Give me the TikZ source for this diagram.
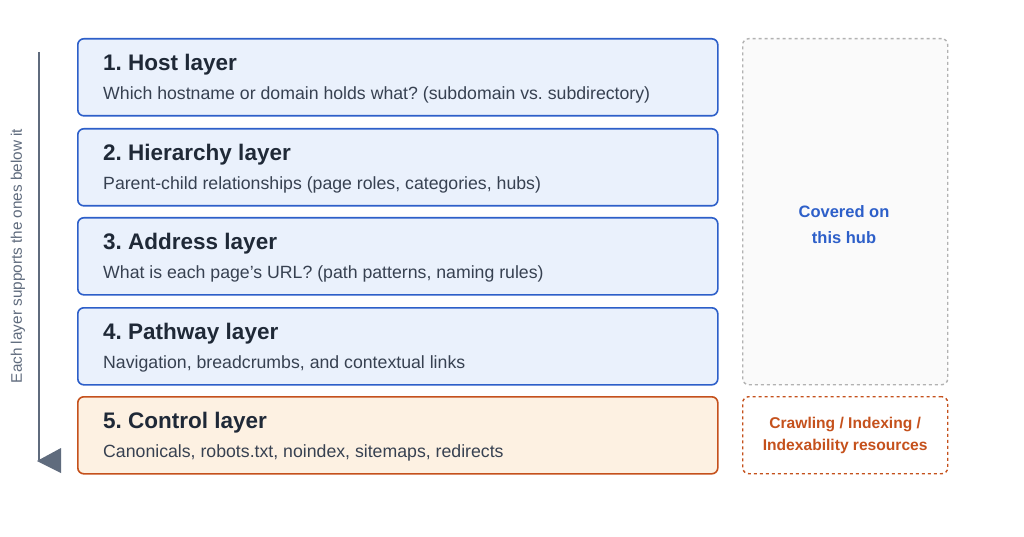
\documentclass[tikz,border=0pt]{standalone}
\usepackage{fontspec}
\setmainfont{Liberation Sans}
\usetikzlibrary{positioning}
\definecolor{layerblue}{HTML}{2D5FC9}
\definecolor{layerfill}{HTML}{EAF1FC}
\definecolor{ctrlorange}{HTML}{C5511C}
\definecolor{ctrlfill}{HTML}{FDF1E2}
\definecolor{inkdark}{HTML}{1F2937}
\definecolor{inkgray}{HTML}{374151}
\definecolor{stackgray}{HTML}{5F6B7D}
\tikzset{
  layer/.style={draw=layerblue,fill=layerfill,line width=1.6pt,rounded corners=6pt,
    minimum width=640pt,minimum height=77pt,anchor=north west},
  ctrl/.style={layer,draw=ctrlorange,fill=ctrlfill},
  ttl/.style={anchor=west,font=\fontsize{22.5}{26}\selectfont\bfseries,text=inkdark,inner sep=0pt},
  sub/.style={anchor=west,font=\fontsize{17.7}{20}\selectfont,text=inkgray,inner sep=0pt},
}
\begin{document}
\frenchspacing
\begin{tikzpicture}[x=1pt,y=-1pt]
\useasboundingbox (0,0) rectangle (1024,537);
\fill[white] (0,0) rectangle (1024,537);
%%%%%%%%%%%%%%%
\node[layer] (host) at (77,38) {};
\node[ttl] at (103,65) {1. Host layer};
\node[sub] at (103,95) {Which hostname or domain holds what? (subdomain vs. subdirectory)};
%%%%%%%%%%%%%%%
\node[layer] (hier) at (77,128) {};
\node[ttl] at (103,155) {2. Hierarchy layer};
\node[sub] at (103,185) {Parent-child relationships (page roles, categories, hubs)};
%%%%%%%%%%%%%%%
\node[layer] (addr) at (77,217) {};
\node[ttl] at (103,244) {3. Address layer};
\node[sub] at (103,274) {What is each page's URL? (path patterns, naming rules)};
%%%%%%%%%%%%%%%
\node[layer] (path) at (77,307) {};
\node[ttl] at (103,334) {4. Pathway layer};
\node[sub] at (103,364) {Navigation, breadcrumbs, and contextual links};
%%%%%%%%%%%%%%%
\node[ctrl] (ctrl) at (77,396) {};
\node[ttl] at (103,423) {5. Control layer};
\node[sub] at (103,453) {Canonicals, robots.txt, noindex, sitemaps, redirects};
%%%%%%%%%%%%%%%
\node[draw=gray!60,fill=gray!4,dashed,line width=1.4pt,rounded corners=6pt,
  minimum width=205pt,minimum height=346pt,anchor=north west] (hub) at (742,38) {};
\node[align=center,text=layerblue,font=\fontsize{16.5}{26}\selectfont\bfseries] at (844,225)
  {Covered on\\this hub};
\node[draw=ctrlorange,dashed,line width=1.4pt,rounded corners=6pt,
  minimum width=205pt,minimum height=77pt,anchor=north west,
  align=center,text=ctrlorange,font=\fontsize{15.6}{22}\selectfont\bfseries] (crawl) at (742,396)
  {Crawling / Indexing /\\Indexability resources};
%%%%%%%%%%%%%%%
\coordinate (top) at (39,52);
\coordinate (bot) at (39,460);
\draw[stackgray,line width=2pt] (top) -- (bot);
\fill[stackgray] (37,461) -- (61,448) -- (61,473) -- cycle;
\node[rotate=90,text=stackgray,font=\fontsize{15.3}{18}\selectfont] at (18,256) {Each layer supports the ones below it};
\end{tikzpicture}
\end{document}
